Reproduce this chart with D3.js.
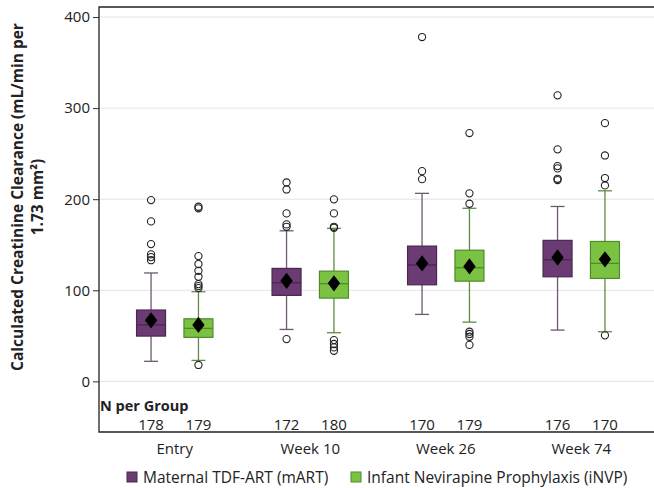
<!DOCTYPE html>
<html><head><meta charset="utf-8">
<script src="https://cdn.jsdelivr.net/npm/d3@7"></script>
<style>body{margin:0;background:#fff}svg{display:block}text{font-family:"Open Sans","Noto Sans",sans-serif;fill:#222}</style>
</head><body><svg id="c" width="654" height="488"></svg>
<script>
const categories = ["Entry","Week 10","Week 26","Week 74"];
const groups = ["Maternal TDF-ART (mART)","Infant Nevirapine Prophylaxis (iNVP)"];
const nPerGroup = {mART:[178,172,170,176], iNVP:[179,180,179,170]};
const yTicks = [0,100,200,300,400];
// [whiskerLow, q1, median, q3, whiskerHigh, mean]
const mARTStats = [
  [22,49.7,62,78.3,119,67],
  [57,94.4,108.2,124,165.3,110.4],
  [73.5,106,127.7,148.5,206.4,129.5],
  [56.3,114.8,133.5,154.8,192,136]
];
const iNVPStats = [
  [23,48.3,58.2,68.7,98.4,62],
  [53.4,91.4,107.2,121,168,107.6],
  [65,110,124.7,144,190,126.2],
  [54.5,113,129.5,153.6,209.2,134]
];
const mARTOutliers = [
  [199,175.6,150.7,139.4,136.4,133],
  [218.4,210.7,184.4,172.3,169.7,46.4],
  [378,230.8,222],
  [314,254.7,236.3,233.8,222.4,221]
];
const iNVPOutliers = [
  [191.7,190,137.5,128.8,121.4,114.8,106.8,104.6,102.4,18],
  [199.8,184.4,169.7,168.6,45.3,41,37.3,33.6],
  [272.6,206.4,195,54.5,52,49,40],
  [283.5,248,223.2,215.1,50.5]
];
const colors = {mART:{fill:"#6b3c73",stroke:"#4a2750",line:"#6e5872"}, iNVP:{fill:"#7cc242",stroke:"#4f8a2c",line:"#5f8b45"}};

const svg = d3.select("#c");
const y = d3.scaleLinear().domain([-55.6,411]).range([432,7]);
const x = d3.scaleBand().domain(categories).range([107,649]);
const off = 23.7, bw = 29, cap = 14;
const L = 99, R = 654;

// grid
svg.append("g").selectAll("line").data(yTicks).join("line")
  .attr("x1",L).attr("x2",R).attr("y1",d=>y(d)).attr("y2",d=>y(d))
  .attr("stroke","#e3e3e3").attr("stroke-width",1);

// axis
const ax = svg.append("g").attr("transform",`translate(${L},0)`)
  .call(d3.axisLeft(y).tickValues(yTicks).tickSize(6).tickPadding(3));
ax.select(".domain").remove();
ax.selectAll(".tick line").attr("stroke","#333");
ax.selectAll(".tick text").style("font-size","15px").attr("fill","#222");

// frame
svg.append("path").attr("d",`M${R},${y(411)}H${L}V${y(-55.6)}H${R}`)
  .attr("fill","none").attr("stroke","#222").attr("stroke-width",1.3);

function drawGroup(key, stats, outs, dx){
  const c = colors[key];
  const g = svg.append("g");
  stats.forEach((s,i)=>{
    const cx = x(categories[i]) + x.bandwidth()/2 + dx;
    const [wl,q1,med,q3,wh,mean] = s;
    g.append("line").attr("x1",cx).attr("x2",cx).attr("y1",y(wh)).attr("y2",y(q3)).attr("stroke",c.line).attr("stroke-width",1.3);
    g.append("line").attr("x1",cx).attr("x2",cx).attr("y1",y(q1)).attr("y2",y(wl)).attr("stroke",c.line).attr("stroke-width",1.3);
    g.append("line").attr("x1",cx-cap/2).attr("x2",cx+cap/2).attr("y1",y(wh)).attr("y2",y(wh)).attr("stroke",c.line).attr("stroke-width",1.3);
    g.append("line").attr("x1",cx-cap/2).attr("x2",cx+cap/2).attr("y1",y(wl)).attr("y2",y(wl)).attr("stroke",c.line).attr("stroke-width",1.3);
    g.append("rect").attr("x",cx-bw/2).attr("width",bw).attr("y",y(q3)).attr("height",y(q1)-y(q3))
      .attr("fill",c.fill).attr("stroke",c.stroke).attr("stroke-width",1.2);
    g.append("line").attr("x1",cx-bw/2).attr("x2",cx+bw/2).attr("y1",y(med)).attr("y2",y(med)).attr("stroke",c.stroke).attr("stroke-width",1.3);
    g.append("path").attr("d",d3.symbol(d3.symbolDiamond, 85)())
      .attr("transform",`translate(${cx},${y(mean)}) scale(1.25,0.95)`).attr("fill","#000");
    outs[i].forEach(v=>{
      g.append("circle").attr("cx",cx).attr("cy",y(v)).attr("r",3.6).attr("fill","none").attr("stroke","#222").attr("stroke-width",1.1);
    });
    svg.append("text").attr("x",cx).attr("y",430).attr("text-anchor","middle").style("font-size","15px").text(nPerGroup[key][i]);
  });
}
drawGroup("mART", mARTStats, mARTOutliers, -off);
drawGroup("iNVP", iNVPStats, iNVPOutliers, off);

svg.append("text").attr("x",100).attr("y",411).style("font-size","14.5px").style("font-weight","bold").attr("fill","#111").text("N per Group");

// category labels
svg.append("g").selectAll("text").data(categories).join("text")
  .attr("x",d=>x(d)+x.bandwidth()/2).attr("y",454).attr("text-anchor","middle")
  .style("font-size","15px").text(d=>d);

// y title
const yt = svg.append("text").attr("transform","translate(0,197) rotate(-90)").attr("text-anchor","middle")
  .style("font-size","15.5px").style("font-weight","bold").attr("fill","#111");
yt.append("tspan").attr("x",0).attr("y",23).text("Calculated Creatinine Clearance (mL/min per");
yt.append("tspan").attr("x",0).attr("y",43).text("1.73 mm²)");

// legend
const leg = [{k:"mART",x:127,label:groups[0]},{k:"iNVP",x:351,label:groups[1]}];
leg.forEach(l=>{
  svg.append("rect").attr("x",l.x).attr("y",472).attr("width",10).attr("height",10)
    .attr("fill",colors[l.k].fill).attr("stroke",colors[l.k].stroke).attr("stroke-width",1);
  svg.append("text").attr("x",l.x+16).attr("y",482.5).style("font-size","15.5px").text(l.label);
});
</script></body></html>
